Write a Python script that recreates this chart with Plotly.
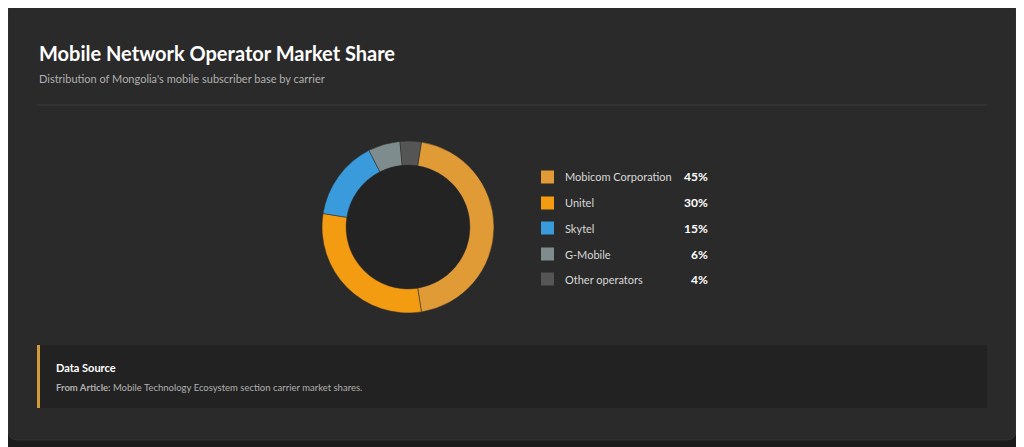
import plotly.graph_objects as go

carriers = ["Mobicom Corporation", "Unitel", "Skytel", "G-Mobile", "Other operators"]
shares = [45, 30, 15, 6, 4]
colors = ["#e09b36", "#f39c12", "#3a9bdc", "#7f8c8d", "#555555"]

W, H = 1024, 447
OFF = 8  # the page puts the figure 8px in from the corner


def px(x):
    return (x - OFF) / W


def py(y):
    return 1 - (y - OFF) / H


fig = go.Figure()
fig.add_trace(go.Pie(
    labels=carriers, values=shares, hole=0.72, sort=False, direction="clockwise", rotation=9,
    marker=dict(colors=colors, line=dict(color="#2a2a2a", width=0.5)),
    textinfo="none", showlegend=False,
    domain=dict(x=[px(322), px(494)], y=[py(313), py(141)]),
))

shapes = [
    # card
    dict(type="path", xref="paper", yref="paper", layer="below",
         path=f"M {px(18)},{py(2)} L {px(1006)},{py(2)} Q {px(1016)},{py(2)} {px(1016)},{py(12)} "
              f"L {px(1016)},{py(430)} Q {px(1016)},{py(440)} {px(1006)},{py(440)} "
              f"L {px(18)},{py(440)} Q {px(8)},{py(440)} {px(8)},{py(430)} "
              f"L {px(8)},{py(12)} Q {px(8)},{py(2)} {px(18)},{py(2)} Z",
         fillcolor="#2a2a2a", line=dict(color="#333333", width=1)),
    dict(type="line", xref="paper", yref="paper", x0=px(37), x1=px(987), y0=py(105), y1=py(105),
         line=dict(color="#3a3a3a", width=1)),
    # donut hole
    dict(type="circle", xref="paper", yref="paper", layer="below",
         x0=px(346), x1=px(470), y0=py(289), y1=py(165), fillcolor="#232323", line=dict(width=0)),
    # data source box
    dict(type="rect", xref="paper", yref="paper", layer="below", x0=px(37), x1=px(987),
         y0=py(408), y1=py(345), fillcolor="#222222", line=dict(width=0)),
    dict(type="rect", xref="paper", yref="paper", x0=px(37), x1=px(40),
         y0=py(408), y1=py(345), fillcolor="#d39a3a", line=dict(width=0)),
]

annotations = [
    dict(text="<b>Mobile Network Operator Market Share</b>", x=px(37), y=py(53), xanchor="left",
         yanchor="middle", showarrow=False, font=dict(size=20, color="#ffffff")),
    dict(text="Distribution of Mongolia's mobile subscriber base by carrier", x=px(37), y=py(79),
         xanchor="left", yanchor="middle", showarrow=False, font=dict(size=11, color="#b0b0b0")),
    dict(text="<b>Data Source</b>", x=px(54), y=py(367), xanchor="left", yanchor="middle",
         showarrow=False, font=dict(size=11, color="#ffffff")),
    dict(text="<b>From Article:</b> Mobile Technology Ecosystem section carrier market shares.",
         x=px(54), y=py(387), xanchor="left", yanchor="middle", showarrow=False,
         font=dict(size=9.5, color="#b0b0b0")),
]

row_y = [177, 203, 228, 254, 279]
for name, val, col, ry in zip(carriers, shares, colors, row_y):
    shapes.append(dict(type="rect", xref="paper", yref="paper", x0=px(541), x1=px(554),
                       y0=py(ry + 6.5), y1=py(ry - 6.5), fillcolor=col, line=dict(width=0)))
    annotations.append(dict(text=name, x=px(563), y=py(ry), xanchor="left", yanchor="middle",
                            showarrow=False, font=dict(size=11, color="#d8d8d8")))
    annotations.append(dict(text=f"<b>{val}%</b>", x=px(710), y=py(ry), xanchor="right",
                            yanchor="middle", showarrow=False, font=dict(size=12, color="#ffffff")))

fig.update_layout(
    width=W, height=H, margin=dict(l=0, r=0, t=0, b=0),
    paper_bgcolor="#1b1b1b", plot_bgcolor="#1b1b1b",
    font=dict(family="Lato, Open Sans, sans-serif"),
    shapes=shapes, annotations=annotations,
)

fig.write_html("out.html", config=dict(displayModeBar=False))
